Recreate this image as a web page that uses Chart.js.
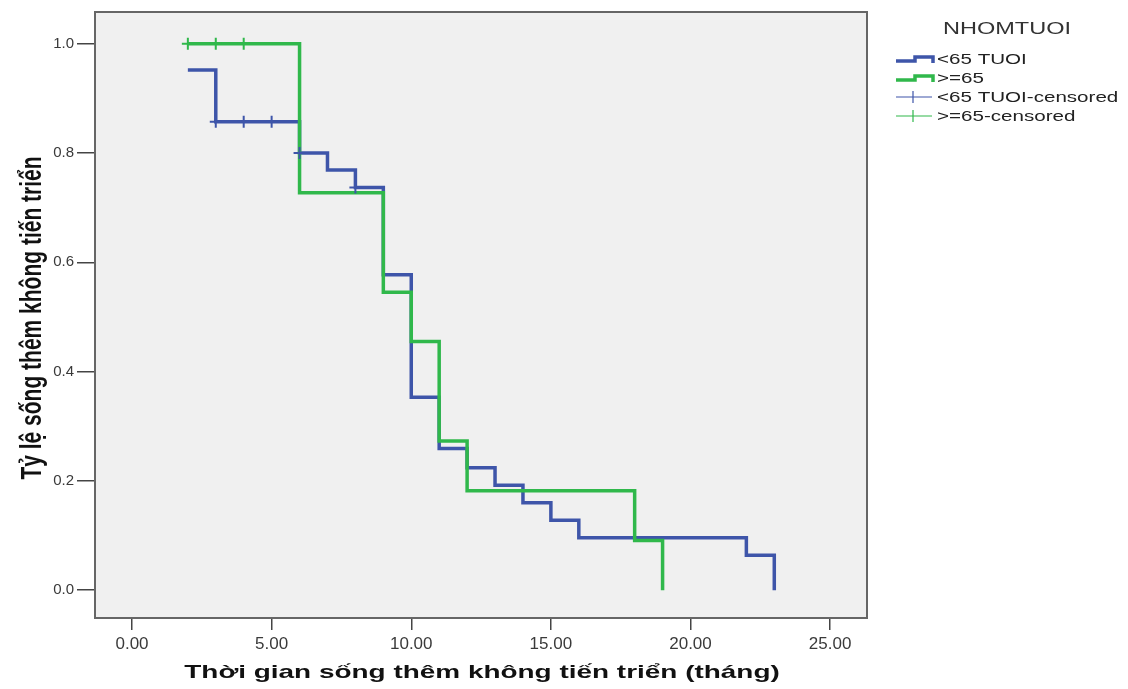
<!DOCTYPE html>
<html>
<head>
<meta charset="utf-8">
<title>Kaplan-Meier</title>
<script src="https://cdn.jsdelivr.net/npm/chart.js@4.4.0/dist/chart.umd.min.js"></script>
<style>
  html, body { margin: 0; padding: 0; background: #fff; }
  #wrap { width: 1128px; height: 689px; }
</style>
</head>
<body>
<div id="wrap"><canvas id="km" width="1128" height="689"></canvas></div>
<script>
// ── Survival data (Kaplan-Meier, by age group) ──
const groupLabels = ['<65 TUOI', '>=65'];

const youngTimes = [2, 3, 6, 7, 8, 9, 10, 11, 12, 13, 14, 15, 16, 22, 23];
const youngSurv  = [0.952, 0.857, 0.800, 0.769, 0.737, 0.577, 0.353, 0.259, 0.224, 0.192, 0.160, 0.128, 0.096, 0.064, 0.000];
const youngCensTimes = [3, 4, 5, 6, 8];
const youngCensSurv  = [0.857, 0.857, 0.857, 0.800, 0.737];

const oldTimes = [2, 6, 9, 10, 11, 12, 18, 19];
const oldSurv  = [1.000, 0.727, 0.545, 0.455, 0.273, 0.182, 0.091, 0.000];
const oldCensTimes = [2, 3, 4];
const oldCensSurv  = [1.000, 1.000, 1.000];

const xTicks = [0, 5, 10, 15, 20, 25];
const yTicks = [0, 0.2, 0.4, 0.6, 0.8, 1.0];

const legendTitle = 'NHOMTUOI';
const xTitle = 'Thời gian sống thêm không tiến triển (tháng)';
const yTitle = 'Tỷ lệ sống thêm không tiến triển';

const BLUE  = '#3e55a9';
const GREEN = '#30b84b';
const TEXT_SX = 1.47;   // wide lettering used by the titles / legend

const toXY = (xs, ys) => xs.map((x, i) => ({ x, y: ys[i] }));

Chart.defaults.font.family = '"Liberation Sans", Arial, sans-serif';

// plot background, frame, axis titles and legend
const kmDecor = {
  id: 'kmDecor',
  beforeDatasetsDraw(chart) {
    const { ctx, chartArea: a } = chart;
    ctx.save();
    ctx.fillStyle = '#f0f0f0';
    ctx.fillRect(a.left, a.top, a.right - a.left, a.bottom - a.top);
    ctx.restore();
  },
  afterDraw(chart) {
    const { ctx, chartArea: a } = chart;
    ctx.save();
    ctx.strokeStyle = '#666';
    ctx.lineWidth = 2;
    ctx.strokeRect(a.left, a.top, a.right - a.left, a.bottom - a.top);

    // axis titles
    ctx.fillStyle = '#111';
    ctx.font = 'bold 19px "Liberation Sans", Arial, sans-serif';
    ctx.textAlign = 'center';
    ctx.textBaseline = 'alphabetic';
    ctx.save();
    ctx.translate(482, 678);
    ctx.scale(TEXT_SX, 1);
    ctx.fillText(xTitle, 0, 0);
    ctx.restore();

    ctx.save();
    ctx.font = 'bold 21px "Liberation Sans", Arial, sans-serif';
    ctx.textBaseline = 'middle';
    ctx.translate(33, 318);
    ctx.rotate(-Math.PI / 2);
    ctx.scale(1, 1.4);
    ctx.fillText(yTitle, 0, 0);
    ctx.restore();

    // legend
    ctx.fillStyle = '#333';
    ctx.font = '16px "Liberation Sans", Arial, sans-serif';
    ctx.save();
    ctx.translate(1007, 34);
    ctx.scale(TEXT_SX, 1);
    ctx.fillText(legendTitle, 0, 0);
    ctx.restore();

    const items = [
      { text: groupLabels[0], color: BLUE, kind: 'step' },
      { text: groupLabels[1], color: GREEN, kind: 'step' },
      { text: groupLabels[0] + '-censored', color: BLUE, kind: 'cens' },
      { text: groupLabels[1] + '-censored', color: GREEN, kind: 'cens' }
    ];
    const rows = [59, 78, 97, 116];
    items.forEach((it, i) => {
      const y = rows[i];
      ctx.strokeStyle = it.color;
      ctx.beginPath();
      if (it.kind === 'step') {
        ctx.lineWidth = 3.5;
        ctx.moveTo(896, y + 2);
        ctx.lineTo(915, y + 2);
        ctx.lineTo(915, y - 2);
        ctx.lineTo(933, y - 2);
        ctx.lineTo(933, y + 4);
      } else {
        ctx.lineWidth = 1.2;
        ctx.moveTo(896, y);
        ctx.lineTo(932, y);
        ctx.moveTo(913, y - 6);
        ctx.lineTo(913, y + 6);
      }
      ctx.stroke();
      ctx.fillStyle = '#222';
      ctx.font = '14px "Liberation Sans", Arial, sans-serif';
      ctx.textAlign = 'left';
      ctx.textBaseline = 'alphabetic';
      ctx.save();
      ctx.translate(937, y + 5);
      ctx.scale(TEXT_SX, 1);
      ctx.fillText(it.text, 0, 0);
      ctx.restore();
    });
    ctx.restore();
  }
};

const censStyle = (color) => ({
  showLine: false,
  pointStyle: 'cross',
  pointRadius: 6,
  pointHoverRadius: 6,
  borderColor: color,
  backgroundColor: color,
  borderWidth: 2,
  order: 0
});

new Chart(document.getElementById('km'), {
  type: 'scatter',
  data: {
    datasets: [
      { label: groupLabels[0], data: toXY(youngTimes, youngSurv), showLine: true, stepped: true,
        borderColor: BLUE, borderWidth: 3.5, pointRadius: 0, fill: false, order: 2 },
      { label: groupLabels[1], data: toXY(oldTimes, oldSurv), showLine: true, stepped: true,
        borderColor: GREEN, borderWidth: 3.5, pointRadius: 0, fill: false, order: 1 },
      { label: groupLabels[0] + '-censored', data: toXY(youngCensTimes, youngCensSurv), ...censStyle(BLUE) },
      { label: groupLabels[1] + '-censored', data: toXY(oldCensTimes, oldCensSurv), ...censStyle(GREEN) }
    ]
  },
  options: {
    responsive: false,
    animation: false,
    devicePixelRatio: 1,
    layout: { padding: { top: 9, right: 261, left: 0, bottom: 0 } },
    plugins: { legend: { display: false }, tooltip: { enabled: false } },
    scales: {
      x: {
        type: 'linear',
        min: -1.325, max: 26.32,
        afterBuildTicks: s => { s.ticks = xTicks.map(v => ({ value: v })); },
        afterFit: s => { s.height = 71; },
        grid: { display: true, drawOnChartArea: false, drawTicks: true, tickLength: 12, color: '#444', lineWidth: 1.5 },
        border: { display: false },
        ticks: { autoSkip: false, maxRotation: 0, padding: 4, color: '#3a3a3a', font: { size: 17 },
                 callback: v => v.toFixed(2) }
      },
      y: {
        type: 'linear',
        min: -0.051, max: 1.058,
        afterBuildTicks: s => { s.ticks = yTicks.map(v => ({ value: v })); },
        afterFit: s => { s.width = 95; },
        grid: { display: true, drawOnChartArea: false, drawTicks: true, tickLength: 18, color: '#444', lineWidth: 1.5 },
        border: { display: false },
        ticks: { autoSkip: false, padding: 3, color: '#3a3a3a', font: { size: 15 },
                 callback: v => v.toFixed(1) }
      }
    }
  },
  plugins: [kmDecor]
});
</script>
</body>
</html>
